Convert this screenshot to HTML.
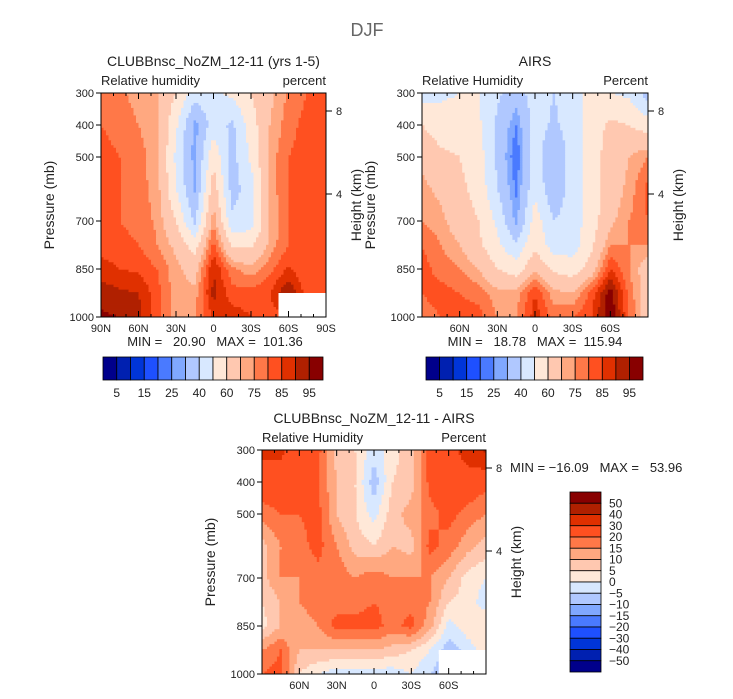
<!DOCTYPE html>
<html><head><meta charset="utf-8">
<style>
body{margin:0;background:#fff;}
svg{display:block;font-family:"Liberation Sans",sans-serif;}
text{fill:#222;}
</style></head>
<body>
<svg id="chart" width="733" height="699" viewBox="0 0 733 699" xmlns="http://www.w3.org/2000/svg">
<text x="367" y="36" font-size="18" text-anchor="middle" style="fill:#666">DJF</text>
</svg>
<script>
// ---- data ----
const lats = [90,75,60,45,30,15,0,-15,-30,-45,-60,-75,-90];
const pres = [300,400,500,600,700,775,850,925,1000];
const rhModel = [
 [78,76,73,70,60,45,48,52,60,68,76,80,84],
 [80,78,75,72,52,27,45,38,55,70,78,82,84],
 [82,80,77,72,48,27,58,36,52,72,80,82,84],
 [82,80,77,73,50,29,66,36,45,72,80,82,83],
 [82,80,78,74,60,38,74,42,45,70,80,81,82],
 [83,82,80,75,68,55,82,58,58,72,80,80,80],
 [87,85,84,80,72,66,90,76,72,78,86,80,80],
 [93,91,90,82,72,72,92,82,82,85,95,82,80],
 [96,95,92,82,72,75,86,88,85,82,85,82,80]];
const rhObs = [
 [45,48,50,50,42,35,45,40,45,55,50,48,35],
 [60,55,55,52,38,25,45,38,45,55,62,60,55],
 [68,62,60,55,38,20,45,30,45,55,65,70,75],
 [72,68,62,57,40,24,48,32,45,55,65,72,82],
 [75,72,65,60,48,28,55,40,45,55,68,75,80],
 [80,75,70,62,52,42,58,45,45,58,75,75,75],
 [82,78,75,70,60,55,68,58,55,65,85,75,65],
 [80,82,80,78,72,72,85,72,70,82,98,78,65],
 [78,80,82,82,75,75,88,78,80,85,100,80,65]];
const rhDiff = [
 [32,32,25,22,8,5,-3,3,8,22,25,35,42],
 [25,25,22,20,10,5,-8,5,8,22,25,25,22],
 [17,20,20,22,10,5,-2,8,12,18,22,18,15],
 [8,15,18,22,15,8,5,10,8,22,18,12,8],
 [8,15,15,18,18,15,18,15,15,15,10,3,0],
 [5,10,15,18,18,18,20,18,18,15,5,3,-3],
 [3,10,12,15,22,22,22,18,22,12,-2,3,5],
 [15,20,10,10,10,10,10,8,5,0,-8,-3,3],
 [20,22,5,0,-3,-3,-3,-3,0,-5,-10,-5,0]];
const levelsRH = [5,10,15,20,25,30,40,50,60,70,75,80,85,90,95];
const levelsDiff = [-50,-40,-30,-20,-15,-10,-5,0,5,10,15,20,30,40,50];
const cbLabelsRH = ["5","15","25","40","60","75","85","95"];
const cbLabelsDiff = ["50","40","30","20","15","10","5","0","−5","−10","−15","−20","−30","−40","−50"];
const colors = ["#00008b","#0020b0","#0035d8","#1e50ff","#4a7aff","#80a8ff","#b0c8ff","#d8e8ff","#ffe8d8","#ffc8b0","#ffa880","#ff7848","#ff5020","#e03000","#b02000","#880000"];
const pTicks = [300,400,500,700,850,1000];
const latTicks1 = [90,60,30,0,-30,-60,-90];
const latTicks2 = [60,30,0,-30,-60];

const svg = document.getElementById('chart');
const NS = 'http://www.w3.org/2000/svg';
function el(tag, attrs, parent){const e=document.createElementNS(NS,tag);for(const k in attrs)e.setAttribute(k,attrs[k]);(parent||svg).appendChild(e);return e;}
function txt(x,y,s,size,anchor,parent,rot){const t=el('text',{x:x,y:y,'font-size':size,'text-anchor':anchor||'middle'},parent);if(rot)t.setAttribute('transform','rotate(-90 '+x+' '+y+')');t.textContent=s;return t;}
function latLabel(l){return l===0?'0':(Math.abs(l)+(l>0?'N':'S'));}
function sample(grid,lat,p){
  let i=0;while(i<lats.length-2&&lat<lats[i+1])i++;
  let j=0;while(j<pres.length-2&&p>pres[j+1])j++;
  const fx=(lats[i]-lat)/(lats[i]-lats[i+1]);const fy=(p-pres[j])/(pres[j+1]-pres[j]);
  const a=grid[j][i],b=grid[j][i+1],c=grid[j+1][i],d=grid[j+1][i+1];
  return (a*(1-fx)+b*fx)*(1-fy)+(c*(1-fx)+d*fx)*fy;
}
function colorIdx(v,levels){let k=0;while(k<levels.length&&v>=levels[k])k++;return k;}

function panel(name,x0,y0,w,h,grid,levels,opts){
  const g=el('g',{},svg);
  
  
  const xs=lat=>x0+(90-lat)/180*w;
  const ys=p=>y0+(p-300)/700*h;
  const N=90,M=90,cw=w/N,ch=h/M;
  const field=el('g',{},g);
  
  
  for(let r=0;r<M;r++){
    const p=300+(r+0.5)/M*700;
    let start=0,cur=-1;
    for(let c=0;c<=N;c++){
      let k=-1;
      if(c<N){const lat=90-(c+0.5)/N*180;k=colorIdx(sample(grid,lat,p),levels);}
      if(k!==cur){
        if(cur>=0){el('rect',{x:(x0+start*cw).toFixed(2),y:(y0+r*ch).toFixed(2),width:((c-start)*cw+0.4).toFixed(2),height:(ch+0.4).toFixed(2),fill:colors[cur]},field);}
        start=c;cur=k;
      }
    }
  }
  if(opts.missing){const m=opts.missing;const mr=el('rect',{x:xs(m[0]),y:ys(m[1]),width:x0+w-xs(m[0]),height:y0+h-ys(m[1]),fill:'#fff'},g);}
  const frame=el('rect',{x:x0,y:y0,width:w,height:h,fill:'none',stroke:'#000','stroke-width':1},g);
  
  for(const p of pTicks){el('line',{x1:x0-5,x2:x0,y1:ys(p),y2:ys(p),stroke:'#000'},g);const t=txt(x0-7,ys(p)+4,String(p),11,'end',g);}
  for(let l=90;l>=-90;l-=10){const big=l%30===0;el('line',{x1:xs(l),x2:xs(l),y1:y0+h,y2:y0+h-(big?6:3),stroke:'#000'},g);el('line',{x1:xs(l),x2:xs(l),y1:y0,y2:y0+(big?6:3),stroke:'#000'},g);}
  for(const l of opts.latTicks){const t=txt(xs(l),y0+h+15,latLabel(l),11,'middle',g);}
  const y8=y0+18,y4=y0+101;
  el('line',{x1:x0+w,x2:x0+w+6,y1:y8,y2:y8,stroke:'#000'},g);el('line',{x1:x0+w,x2:x0+w+6,y1:y4,y2:y4,stroke:'#000'},g);
  txt(x0+w+10,y8+4,'8',11,'start',g);txt(x0+w+10,y4+4,'4',11,'start',g);
  let t=txt(x0-47,y0+h/2,'Pressure (mb)',14,'middle',g,true);
  t=txt(x0+w+35,y0+h/2,'Height (km)',14,'middle',g,true);
  t=txt(x0+w/2,y0-27,opts.title,14,'middle',g);
  t=txt(x0,y0-8,opts.left,13,'start',g);
  t=txt(x0+w,y0-8,opts.right,13,'end',g);
  if(opts.minmax){t=txt(opts.minmax[0],opts.minmax[1],opts.minmax[2],13,opts.minmax[3],g);t.style.whiteSpace='pre';}
}
function hbar(name,x0,y0,w,h,labels){
  const g=el('g',{},svg);
  const bw=w/colors.length;
  colors.forEach((c,i)=>{const r=el('rect',{x:x0+i*bw,y:y0,width:bw,height:h,fill:c,stroke:'#000','stroke-width':0.8},g);});
  labels.forEach((s,i)=>{const t=txt(x0+(2*i+1)*bw,y0+h+17,s,12,'middle',g);});
}
function vbar(name,x0,y0,w,h,labels){
  const g=el('g',{},svg);
  const bh=h/colors.length;
  colors.slice().reverse().forEach((c,i)=>{const r=el('rect',{x:x0,y:y0+i*bh,width:w,height:bh,fill:c,stroke:'#000','stroke-width':0.8},g);});
  labels.forEach((s,i)=>{const t=txt(x0+w+8,y0+(i+1)*bh+4,s,12,'start',g);});
}
panel('model-panel',101,93,225,224,rhModel,levelsRH,{title:'CLUBBnsc_NoZM_12-11 (yrs 1-5)',left:'Relative humidity',right:'percent',latTicks:latTicks1,missing:[-52,925],minmax:[215,346,'MIN =   20.90   MAX =  101.36','middle']});
panel('airs-panel',422,93,226,224,rhObs,levelsRH,{title:'AIRS',left:'Relative Humidity',right:'Percent',latTicks:latTicks2,minmax:[535,346,'MIN =   18.78   MAX =  115.94','middle']});
panel('difference-panel',262,450,224,224,rhDiff,levelsDiff,{title:'CLUBBnsc_NoZM_12-11 - AIRS',left:'Relative Humidity',right:'Percent',latTicks:latTicks2,missing:[-52,925],minmax:[510,472,'MIN = −16.09   MAX =   53.96','start']});
hbar('model-colorbar',103,357,220,23,cbLabelsRH);
hbar('airs-colorbar',426,357,217,23,cbLabelsRH);
vbar('difference-colorbar',570,492,31,180,cbLabelsDiff);
</script>
</body></html>
